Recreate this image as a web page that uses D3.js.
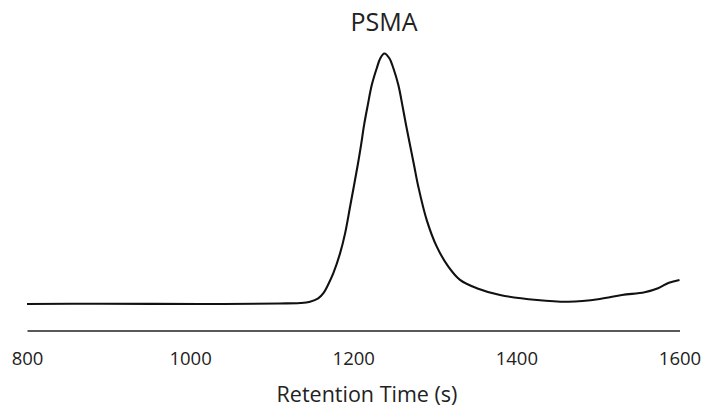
<!DOCTYPE html>
<html>
<head>
<meta charset="utf-8">
<script src="https://cdn.jsdelivr.net/npm/d3@7"></script>
<style>
  html, body { margin: 0; padding: 0; background: #fff; }
  svg { display: block; }
  text { font-family: "Open Sans", "Liberation Sans", sans-serif; fill: #222; }
</style>
</head>
<body>
<svg id="chart" width="702" height="408"></svg>
<script>
// Data (retention time in s, detector signal in arbitrary units)
const retentionTime = [800, 890, 1012, 1110, 1135, 1147, 1157, 1163.4, 1169, 1175.6, 1183.8, 1190, 1196.1, 1205.5, 1209.6, 1213.3, 1217.8, 1222.7, 1228.8, 1233.2, 1238.1, 1244.3, 1249.2, 1255.3, 1260.2, 1264.7, 1269.6, 1274.5, 1279.8, 1290.1, 1302.4, 1316.6, 1330.9, 1351.4, 1380, 1425.3, 1463.9, 1502.3, 1529.5, 1557.2, 1573.7, 1587.1, 1600];
const signal = [0, 0.1, 0, 0.2, 0.4, 0.9, 2.2, 4.3, 7.6, 12.3, 20.2, 28.2, 38.8, 55.5, 63.5, 71.5, 79.4, 87.4, 94.1, 98.1, 100, 98.1, 94.1, 87.4, 79.4, 71.5, 63.5, 55.5, 46.8, 33.5, 22.9, 14.9, 9.6, 6.3, 3.6, 1.6, 0.9, 2.0, 3.6, 4.7, 6.3, 8.5, 9.6];
const xTicks = [800, 1000, 1200, 1400, 1600];
const chartTitle = "PSMA";
const xTitle = "Retention Time (s)";

const svg = d3.select("#chart");

const x = d3.scaleLinear().domain([800, 1600]).range([27, 679.5]);
const y = d3.scaleLinear().domain([0, 100]).range([304, 53.5]);
const axisY = 330.5;

// x axis
const xAxis = d3.axisBottom(x)
  .tickValues(xTicks)
  .tickFormat(d3.format("d"))
  .tickSize(0)
  .tickPadding(21.5);

const gx = svg.append("g")
  .attr("transform", `translate(0,${axisY})`)
  .call(xAxis);
gx.select(".domain").attr("stroke", "#222").attr("stroke-width", 1.4);
gx.selectAll("text")
  .style("font-family", '"Open Sans", "Liberation Sans", sans-serif')
  .style("font-size", "18.5px")
  .attr("fill", "#222");

// line
const pts = retentionTime.map((t, i) => [t, signal[i]]);
const line = d3.line()
  .x(d => x(d[0]))
  .y(d => y(d[1]))
  .curve(d3.curveCatmullRom.alpha(0.5));

svg.append("path")
  .datum(pts)
  .attr("d", line)
  .attr("fill", "none")
  .attr("stroke", "#111")
  .attr("stroke-width", 2.1)
  .attr("stroke-linejoin", "round");

// titles
svg.append("text")
  .attr("x", 384)
  .attr("y", 31)
  .attr("text-anchor", "middle")
  .style("font-size", "25px")
  .text(chartTitle);

svg.append("text")
  .attr("x", 367)
  .attr("y", 402)
  .attr("text-anchor", "middle")
  .style("font-size", "21.5px")
  .text(xTitle);
</script>
</body>
</html>
